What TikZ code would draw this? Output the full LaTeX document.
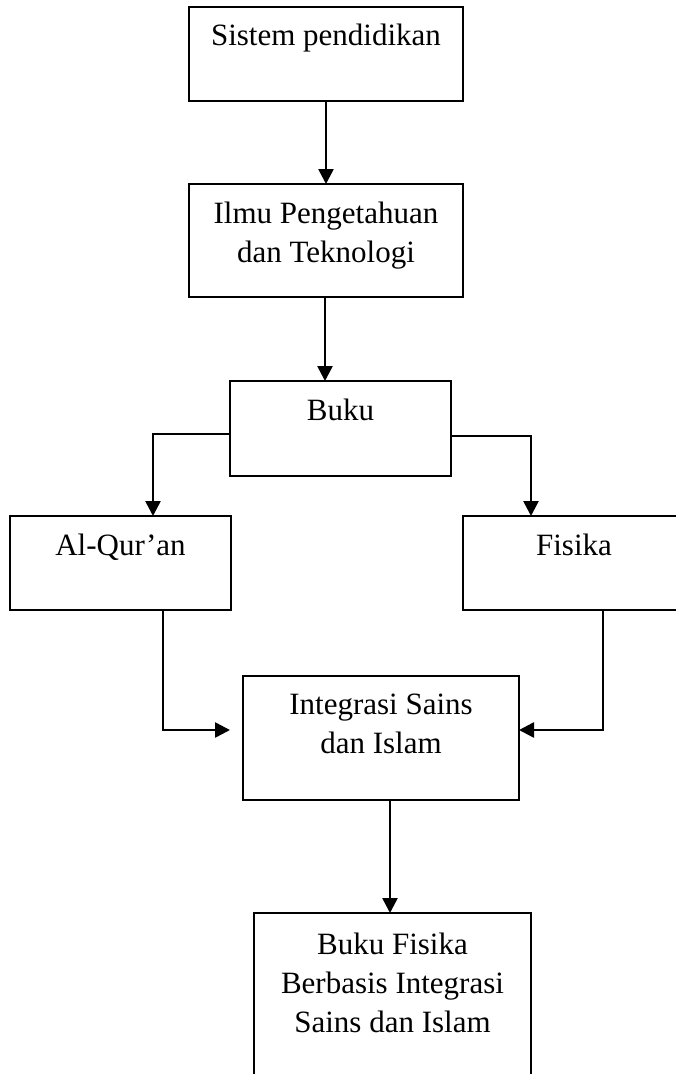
\documentclass[tikz,border=0pt]{standalone}
\usepackage{fontspec}
\setmainfont{Liberation Serif}
\usetikzlibrary{arrows.meta,calc}
\begin{document}
\begin{tikzpicture}[x=1pt,y=-1pt,
  box/.style={draw,line width=1.8pt,rectangle,inner sep=0pt,outer sep=0pt,anchor=north west},
  txt/.style={font=\fontsize{31}{39}\selectfont,align=center,inner sep=0pt,anchor=base},
  arr/.style={line width=2.6pt,-{Triangle[width=15pt,length=15pt]}}]
\useasboundingbox (0,0) rectangle (676,1074);
\node[box,minimum width=274pt,minimum height=94pt] (b1) at (189,7) {};
\node[box,minimum width=274pt,minimum height=113pt] (b2) at (189,184) {};
\node[box,minimum width=221pt,minimum height=95pt] (b3) at (230,381) {};
\node[box,minimum width=221pt,minimum height=94pt] (b4) at (10,516) {};
\node[box,minimum width=222pt,minimum height=94pt] (b5) at (463,516) {};
\node[box,minimum width=276pt,minimum height=124pt] (b6) at (243,676) {};
\node[box,minimum width=277pt,minimum height=190pt] (b7) at (254,913) {};
\node[txt] (t1) at ([yshift=-38pt]b1.north) {Sistem pendidikan};
\node[txt] (t2) at ([yshift=-78pt]b2.north) {Ilmu Pengetahuan\\dan Teknologi};
\node[txt] (t3) at ([yshift=-39pt]b3.north) {Buku};
\node[txt] (t4) at ([yshift=-39pt]b4.north) {Al-Qur’an};
\node[txt] (t5) at ([yshift=-39pt]b5.north) {Fisika};
\node[txt] (t6) at ([yshift=-77pt]b6.north) {Integrasi Sains\\dan Islam};
\node[txt] (t7) at ([yshift=-119pt]b7.north) {Buku Fisika\\Berbasis Integrasi\\Sains dan Islam};
\draw[arr] (b1.south) -- (b2.north);
\draw[arr] ([xshift=-1pt]b2.south) -- ([xshift=-1pt]b2.south |- b3.north);
\draw[arr] ([yshift=-5.5pt]b3.west) -| ([xshift=32.5pt]b4.north);
\draw[arr] ([yshift=-7.5pt]b3.east) -| ([xshift=-43pt]b5.north);
\coordinate (c6) at ([xshift=-13pt,yshift=8pt]b6.west);
\draw[arr] ([xshift=42.5pt]b4.south) |- (c6);
\draw[arr] ([xshift=29pt]b5.south) |- ([yshift=8pt]b6.east);
\draw[arr] ([xshift=9pt]b6.south) -- ([xshift=9pt]b6.south |- b7.north);
\end{tikzpicture}
\end{document}
